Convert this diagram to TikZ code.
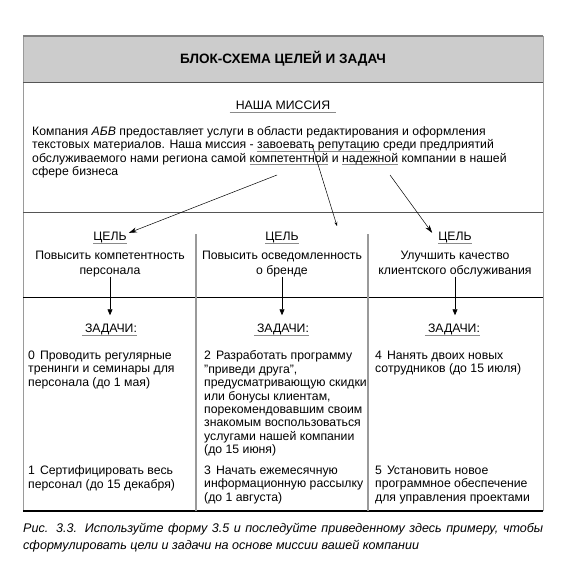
\documentclass[tikz,border=0pt]{standalone}
\usepackage{fontspec}
\setmainfont{Liberation Sans}
\usetikzlibrary{arrows.meta}
\definecolor{headgray}{HTML}{CCCCCC}
\definecolor{sidegray}{HTML}{9A9A9A}
\definecolor{topgray}{HTML}{7F7F7F}
\definecolor{darkline}{HTML}{555555}
\definecolor{ulgray}{HTML}{8A8A8A}
\newsavebox\ulbox
\newcommand\grayul[1]{\sbox\ulbox{#1}\rlap{\textcolor{ulgray}{\rule[-2.8pt]{\wd\ulbox}{0.8pt}}}\usebox\ulbox}
\newcommand\firststrut{\rule{0pt}{10bp}}
\begin{document}
\begin{tikzpicture}[x=1bp,y=-1bp,
    bodytext/.style={font=\fontsize{12.3}{13.5}\selectfont, inner sep=0pt},
    titletext/.style={font=\fontsize{13.6}{15}\selectfont\bfseries, inner sep=0pt, anchor=base},
    headword/.style={bodytext, anchor=base},
    tasktext/.style={bodytext, align=left, anchor=north west, execute at begin node=\firststrut},
    goaltext/.style={font=\fontsize{12.3}{15}\selectfont, inner sep=0pt, align=center, anchor=north, execute at begin node=\firststrut},
    captext/.style={font=\fontsize{12.6}{17}\selectfont\itshape, inner sep=0pt, anchor=north west, text width=520bp, align=justify, execute at begin node=\firststrut},
    ul/.style={ulgray, line width=0.9bp},
    missionarrow/.style={-{Stealth[length=8bp,width=5bp]}, line width=0.5bp},
    taskarrow/.style={-{Triangle[length=6bp,width=5bp]}, line width=0.7bp, shorten >=8.5bp}]
  \useasboundingbox (0,0) rectangle (575,568);
  \fill[headgray] (23,36) rectangle (543,83);
  \draw[sidegray, line width=1bp] (23,511) -- (23,36);
  \draw[sidegray, line width=1bp] (543,36) -- (543,511);
  \draw[topgray, line width=1.2bp] (23,36) -- (543,36);
  \draw[darkline, line width=1bp] (23,83) -- (543,83);
  \draw[darkline, line width=1bp] (23,212) -- (543,212);
  \draw[black, line width=1bp] (23,297) -- (543,297);
  \draw[black, line width=1.1bp] (23,511) -- (543,511);
  \draw[sidegray, line width=1.1bp] (196,234) -- (196,511);
  \draw[sidegray, line width=1.1bp] (368,234) -- (368,511);

  \node[titletext] (title) at (283,64) {БЛОК-СХЕМА ЦЕЛЕЙ И ЗАДАЧ};
  \node[headword] (mission) at (283,109.5) {НАША МИССИЯ};
  \draw[ul] ([xshift=-6bp,yshift=-2.8bp]mission.base west) -- ([xshift=6bp,yshift=-2.8bp]mission.base east);
  \node[tasktext] (missiontext) at (32,126)
    {Компания \textit{АБВ} предоставляет услуги в области редактирования и оформления\\
     текстовых материалов. Наша миссия - \grayul{завоевать репутацию} среди предлриятий\\
     обслуживаемого нами региона самой \grayul{компетентной} и \grayul{надежной} компании в нашей\\
     сфере бизнеса};

  \node[headword] (g1) at (110,240.5) {ЦЕЛЬ};
  \node[headword] (g2) at (282,240.5) {ЦЕЛЬ};
  \node[headword] (g3) at (455,240.5) {ЦЕЛЬ};
  \foreach \g in {g1,g2,g3}
    \draw[ul] ([yshift=-2.8bp]\g.base west) -- ([yshift=-2.8bp]\g.base east);
  \node[goaltext] (gt1) at (110,250.5) {Повысить компетентность\\персонала};
  \node[goaltext] (gt2) at (282,250.5) {Повысить осведомленность\\о бренде};
  \node[goaltext] (gt3) at (455,250.5) {Улучшить качество\\клиентского обслуживания};

  \node[headword] (z1) at (111,332.5) {ЗАДАЧИ:};
  \node[headword] (z2) at (283,332.5) {ЗАДАЧИ:};
  \node[headword] (z3) at (454,332.5) {ЗАДАЧИ:};
  \foreach \z in {z1,z2,z3}
    \draw[ul] ([xshift=-3bp,yshift=-2.8bp]\z.base west) -- ([yshift=-2.8bp]\z.base east);

  \node[tasktext] (t0) at (28,350.5) {0\hskip5bp Проводить регулярные\\тренинги и семинары для\\персонала (до 1 мая)};
  \node[tasktext] (t1) at (28,465.5) {1\hskip5bp Сертифицировать весь\\персонал (до 15 декабря)};
  \node[tasktext] (t2) at (204,350.5) {2\hskip5bp Разработать программу\\"приведи друга",\\предусматривающую скидки\\или бонусы клиентам,\\порекомендовавшим своим\\знакомым воспользоваться\\услугами нашей компании\\(до 15 июня)};
  \node[tasktext] (t3) at (204,465.5) {3\hskip5bp Начать ежемесячную\\информационную рассылку\\(до 1 августа)};
  \node[tasktext] (t4) at (375,350.5) {4\hskip5bp Нанять двоих новых\\сотрудников (до 15 июля)};
  \node[tasktext] (t5) at (375,465.5) {5\hskip5bp Установить новое\\программное обеспечение\\для управления проектами};

  \node[captext] (caption) at (23,522)
    {Рис. 3.3. Используйте форму 3.5 и последуйте приведенному здесь примеру, чтобы\linebreak
     сформулировать цели и задачи на основе миссии вашей компании};

  \coordinate (m1) at (277,175);
  \coordinate (m2) at (312,145);
  \coordinate (m3) at (390,175);
  \coordinate (tip2) at (337,226);
  \begin{scope}
    \draw[missionarrow] (m1) -- ([xshift=2bp,yshift=-1bp]g1.north east);
    \draw[-{Stealth[length=4bp,width=3bp]}, line width=0.5bp] (m2) -- (tip2);
    \draw[missionarrow] (m3) -- ([xshift=-6bp,yshift=-1bp]g3.north west);
    \draw[taskarrow] (gt1.south) -- (gt1.south |- z1.north);
    \draw[taskarrow] (gt2.south) -- (gt2.south |- z2.north);
    \draw[taskarrow] (gt3.south) -- (gt3.south |- z3.north);
  \end{scope}
\end{tikzpicture}
\end{document}
